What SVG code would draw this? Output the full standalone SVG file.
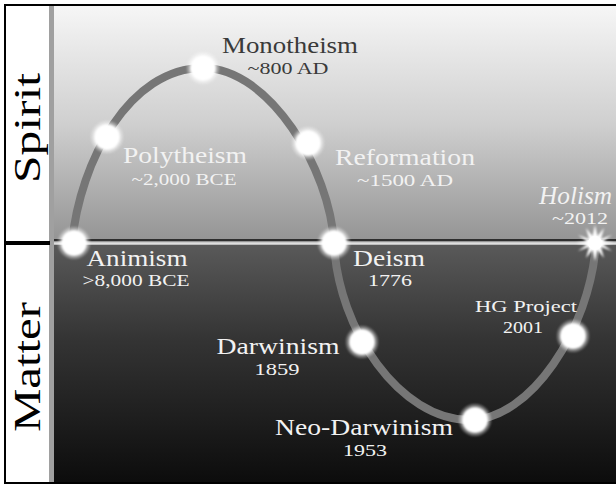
<svg xmlns="http://www.w3.org/2000/svg" width="616" height="485" viewBox="0 0 616 485">
  <defs>
    <linearGradient id="gTop" x1="0" y1="0" x2="0" y2="1">
      <stop offset="0" stop-color="#f6f6f6"/>
      <stop offset="0.5" stop-color="#cfcfcf"/>
      <stop offset="1" stop-color="#939393"/>
    </linearGradient>
    <linearGradient id="gBot" x1="0" y1="0" x2="0" y2="1">
      <stop offset="0" stop-color="#5a5a5a"/>
      <stop offset="0.4" stop-color="#343434"/>
      <stop offset="1" stop-color="#0c0c0c"/>
    </linearGradient>
    <filter id="glow" x="-50%" y="-50%" width="200%" height="200%">
      <feGaussianBlur stdDeviation="1.2"/>
    </filter>
    <style>
      .lbl { font-family: "Liberation Serif", "Times New Roman", serif; text-anchor: middle; }
      .w { fill: #f2f2f2; }
      .d { fill: #3a3a3a; }
      .big { font-size: 23px; }
      .sm { font-size: 17px; }
      .side { font-family: "Liberation Serif", "Times New Roman", serif; font-size: 38px; fill: #000; text-anchor: middle; }
      .dot { fill: #ffffff; filter: url(#glow); }
      .halo { fill: #ffffff; opacity: 0.35; filter: url(#glow); }
    </style>
  </defs>

  <!-- background -->
  <rect x="0" y="0" width="616" height="485" fill="#ffffff"/>
  <rect x="54" y="6" width="562" height="237" fill="url(#gTop)"/>
  <rect x="54" y="243" width="562" height="240" fill="url(#gBot)"/>
  <rect x="49" y="6" width="5" height="477" fill="#a0a0a0"/>
  <rect x="5" y="5" width="620" height="478" fill="none" stroke="#000" stroke-width="2"/>

  <!-- axis divider -->
  <rect x="5" y="241" width="45" height="4" fill="#000"/>
  <line x1="54" y1="240" x2="616" y2="240" stroke="#2e2e2e" stroke-width="2"/>
  <line x1="54" y1="243.5" x2="616" y2="243.5" stroke="#dedede" stroke-width="2.5"/>

  <!-- side labels -->
  <text class="side" transform="translate(40,128) rotate(-90)" textLength="110" lengthAdjust="spacingAndGlyphs">Spirit</text>
  <text class="side" transform="translate(40,367) rotate(-90)" textLength="130" lengthAdjust="spacingAndGlyphs">Matter</text>

  <!-- connector curve -->
  <g id="connectors">
    <path d="M72,243 C80,160 130,68 203,68 C270,68 330,170 334,243 C338,330 400,420 470,420 C530,420 590,330 596,243" fill="none" stroke="#767676" stroke-width="8"/>
  </g>

  <g id="animism">
    <circle class="halo" cx="74" cy="243" r="16"/>
    <circle class="dot" cx="74" cy="243" r="13"/>
    <text class="lbl w big" x="137" y="266" textLength="101" lengthAdjust="spacingAndGlyphs">Animism</text>
    <text class="lbl w sm" x="136" y="286" textLength="107" lengthAdjust="spacingAndGlyphs">&gt;8,000 BCE</text>
  </g>

  <g id="polytheism">
    <circle class="halo" cx="107" cy="137" r="16"/>
    <circle class="dot" cx="107" cy="137" r="13"/>
    <text class="lbl w big" x="185" y="163" textLength="124" lengthAdjust="spacingAndGlyphs">Polytheism</text>
    <text class="lbl w sm" x="184" y="185" textLength="105" lengthAdjust="spacingAndGlyphs">~2,000 BCE</text>
  </g>

  <g id="monotheism">
    <circle class="halo" cx="203" cy="68" r="16"/>
    <circle class="dot" cx="203" cy="68" r="13"/>
    <text class="lbl d big" x="290" y="53" textLength="136" lengthAdjust="spacingAndGlyphs">Monotheism</text>
    <text class="lbl d sm" x="288" y="74" textLength="81" lengthAdjust="spacingAndGlyphs">~800 AD</text>
  </g>

  <g id="reformation">
    <circle class="halo" cx="308" cy="143" r="16"/>
    <circle class="dot" cx="308" cy="143" r="13"/>
    <text class="lbl w big" x="405" y="165" textLength="140" lengthAdjust="spacingAndGlyphs">Reformation</text>
    <text class="lbl w sm" x="405" y="186" textLength="96" lengthAdjust="spacingAndGlyphs">~1500 AD</text>
  </g>

  <g id="deism">
    <circle class="halo" cx="334" cy="243" r="16"/>
    <circle class="dot" cx="334" cy="243" r="13"/>
    <text class="lbl w big" x="389" y="266" textLength="72" lengthAdjust="spacingAndGlyphs">Deism</text>
    <text class="lbl w sm" x="390" y="286" textLength="44" lengthAdjust="spacingAndGlyphs">1776</text>
  </g>

  <g id="darwinism">
    <circle class="halo" cx="362" cy="342" r="16"/>
    <circle class="dot" cx="362" cy="342" r="13"/>
    <text class="lbl w big" x="278" y="354" textLength="123" lengthAdjust="spacingAndGlyphs">Darwinism</text>
    <text class="lbl w sm" x="277" y="375" textLength="45" lengthAdjust="spacingAndGlyphs">1859</text>
  </g>

  <g id="neo-darwinism">
    <circle class="halo" cx="475" cy="420" r="16"/>
    <circle class="dot" cx="475" cy="420" r="13"/>
    <text class="lbl w big" x="364" y="435" textLength="178" lengthAdjust="spacingAndGlyphs">Neo-Darwinism</text>
    <text class="lbl w sm" x="365" y="456" textLength="44" lengthAdjust="spacingAndGlyphs">1953</text>
  </g>

  <g id="hg-project">
    <circle class="halo" cx="573" cy="336" r="16"/>
    <circle class="dot" cx="573" cy="336" r="13"/>
    <text class="lbl w sm" x="526" y="312" textLength="102" lengthAdjust="spacingAndGlyphs">HG Project</text>
    <text class="lbl w sm" x="523" y="333" textLength="40" lengthAdjust="spacingAndGlyphs">2001</text>
  </g>

  <g id="holism">
    <polygon fill="#ffffff" filter="url(#glow)" points="595,225 597.5,236 604,228 601,239 612,235 603,241.5 614,243 603,244.5 612,251 601,247 604,258 597.5,250 595,261 592.5,250 586,258 589,247 578,251 587,244.5 576,243 587,241.5 578,235 589,239 586,228 592.5,236"/>
    <circle fill="#ffffff" cx="595" cy="243" r="7"/>
    <text x="539" y="204" font-family="Liberation Serif, Times New Roman, serif" font-style="italic" font-size="25" fill="#f2f2f2" textLength="73" lengthAdjust="spacingAndGlyphs">Holism</text>
    <text class="lbl w sm" x="580" y="224" textLength="56" lengthAdjust="spacingAndGlyphs">~2012</text>
  </g>
</svg>
